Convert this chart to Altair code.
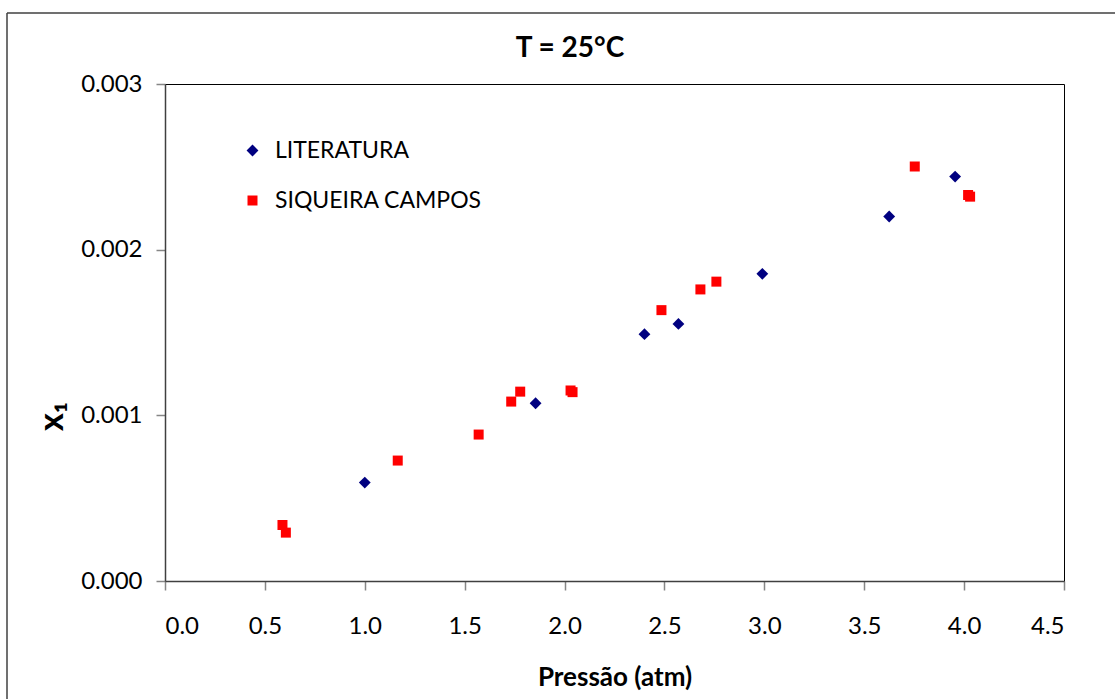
import altair as alt
import pandas as pd

# Data
lit_p = [1.00, 1.855, 2.40, 2.57, 2.99, 3.625, 3.955]
lit_x = [0.000594, 0.001073, 0.00149, 0.001552, 0.001854, 0.00220, 0.002441]

sc_p = [0.588, 0.605, 1.165, 1.57, 1.733, 1.778, 2.03, 2.04, 2.485, 2.68, 2.76, 3.753, 4.02, 4.03]
sc_x = [0.000338, 0.000292, 0.000727, 0.000884, 0.001083, 0.001143, 0.00115, 0.00114,
        0.001635, 0.00176, 0.001807, 0.002502, 0.00233, 0.00232]

series = ["LITERATURA", "SIQUEIRA CAMPOS"]
x_ticks = [0.0, 0.5, 1.0, 1.5, 2.0, 2.5, 3.0, 3.5, 4.0, 4.5]
y_ticks = [0.000, 0.001, 0.002, 0.003]
title_text = "T = 25°C"

df = pd.DataFrame({
    "p": lit_p + sc_p,
    "x1": lit_x + sc_x,
    "serie": [series[0]] * len(lit_p) + [series[1]] * len(sc_p),
})

FONT = "Lato"

legend_kw = dict(title=None, orient="none", legendX=76, legendY=55,
                 labelFontSize=23, labelFont=FONT, labelColor="black", labelLimit=0,
                 symbolSize=100, labelOffset=11, rowPadding=26,
                 padding=0, symbolStrokeWidth=0)

points = alt.Chart(df).mark_point(filled=True, opacity=1).encode(
    x=alt.X("p:Q",
            scale=alt.Scale(domain=[0, 4.5], nice=False, zero=True),
            axis=alt.Axis(values=x_ticks, format=".1f", title="Pressão (atm)",
                          titleY=104, titleBaseline="alphabetic",
                          labelPadding=24)),
    y=alt.Y("x1:Q",
            scale=alt.Scale(domain=[0, 0.003], nice=False),
            axis=alt.Axis(values=y_ticks, format=".3f", title="x₁",
                          titleX=-113, titleY=332, titleAngle=-90,
                          titleAlign="center", titleBaseline="middle",
                          titleFontSize=34, labelPadding=14)),
    color=alt.Color("serie:N",
                    scale=alt.Scale(domain=series, range=["#000080", "#FF0000"]),
                    legend=alt.Legend(**legend_kw)),
    shape=alt.Shape("serie:N",
                    scale=alt.Scale(domain=series, range=["diamond", "square"]),
                    legend=alt.Legend(**legend_kw)),
    size=alt.Size("serie:N",
                  scale=alt.Scale(domain=series, range=[140, 100]),
                  legend=None),
)

frame = pd.DataFrame({"t": [title_text]})
left_border = alt.Chart(frame).mark_rule(color="#404040", strokeWidth=1.5).encode(
    x=alt.value(-158), y=alt.value(-71), y2=alt.value(640)
)
top_border = alt.Chart(frame).mark_rule(color="#404040", strokeWidth=1.5).encode(
    x=alt.value(-158), x2=alt.value(960), y=alt.value(-71)
)
title_mark = alt.Chart(frame).mark_text(
    font=FONT, fontSize=28, fontWeight="bold", color="black",
    align="center", baseline="alphabetic"
).encode(
    x=alt.value(405), y=alt.value(-27), text="t:N"
)

chart = alt.layer(left_border, top_border, title_mark, points).properties(
    width=899,
    height=497,
    autosize=alt.AutoSizeParams(type="none"),
    padding={"left": 165, "top": 84, "right": 51, "bottom": 118},
    background="white",
).configure_view(
    stroke="black", strokeWidth=1
).configure_axis(
    grid=False,
    labelFont=FONT, labelFontSize=24, labelColor="black",
    titleFont=FONT, titleFontSize=26, titleFontWeight="bold", titleColor="black",
    domainColor="#404040", domainWidth=1.5,
    tickColor="#868686", tickWidth=1.5, tickSize=9,
)

chart.save("out.html", embed_options={"renderer": "svg", "actions": False})
